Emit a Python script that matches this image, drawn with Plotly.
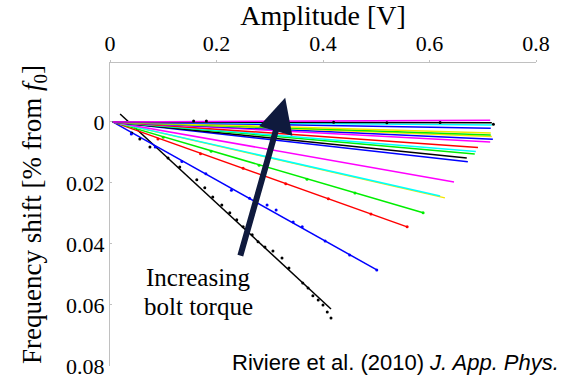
import plotly.graph_objects as go

# Fitted lines: colour, start (x, y) and end (x, y)
fit_colors = ["black", "blue", "red", "#00ee00", "#f5e600", "cyan", "magenta",
              "blue", "black", "#00ee00", "cyan", "red", "magenta", "blue",
              "#f5e600", "#00ee00", "#f5e600", "blue", "cyan", "black", "magenta"]
fit_x0 = [0.019, 0.005, 0.005, 0.005, 0.005, 0.005, 0.005, 0.005, 0.005, 0.005, 0.005,
          0.005, 0.005, 0.005, 0.005, 0.005, 0.005, 0.005, 0.005, 0.005, 0.005]
fit_y0 = [-0.0026, 0, 0, 0, 0, 0, 0, 0, 0, 0, 0, 0, 0, 0, 0, 0, 0, 0, 0, 0, 0]
fit_x1 = [0.415, 0.501, 0.558, 0.588, 0.629, 0.620, 0.646, 0.672, 0.670, 0.685, 0.687,
          0.691, 0.714, 0.719, 0.717, 0.715, 0.715, 0.715, 0.717, 0.717, 0.714]
fit_y1 = [0.0613, 0.0485, 0.0344, 0.0298, 0.0249, 0.0243, 0.0197, 0.0131, 0.0118, 0.0105,
          0.0097, 0.0084, 0.0066, 0.0057, 0.0048, 0.0043, 0.0036, 0.0021, 0.0010, 0.0003,
          -0.0005]

# Measured points (dots)
black_x = [0.041, 0.056, 0.075, 0.109, 0.131, 0.163, 0.178, 0.193, 0.210, 0.225, 0.238,
           0.250, 0.267, 0.278, 0.291, 0.306, 0.323, 0.336, 0.362, 0.372, 0.381, 0.391,
           0.400, 0.408, 0.415]
black_y = [0.0036, 0.0056, 0.0082, 0.0118, 0.0148, 0.0190, 0.0216, 0.0246, 0.0272, 0.0298,
           0.0321, 0.0344, 0.0370, 0.0393, 0.0410, 0.0423, 0.0446, 0.0479, 0.0528, 0.0544,
           0.0570, 0.0584, 0.0600, 0.0623, 0.0643]
blue_x = [0.040, 0.085, 0.135, 0.180, 0.228, 0.262, 0.295, 0.312, 0.344, 0.361, 0.404,
          0.450, 0.501]
blue_y = [0.0040, 0.0082, 0.0130, 0.0170, 0.0224, 0.0250, 0.0272, 0.0289, 0.0328, 0.0344,
          0.0390, 0.0436, 0.0485]
red_x = [0.090, 0.170, 0.250, 0.330, 0.410, 0.490, 0.558]
red_y = [0.0056, 0.0104, 0.0152, 0.0203, 0.0252, 0.0302, 0.0344]
green_x = [0.100, 0.190, 0.280, 0.370, 0.460, 0.588]
green_y = [0.0050, 0.0096, 0.0142, 0.0188, 0.0233, 0.0298]
top_x = [0.157, 0.181, 0.300, 0.420, 0.520, 0.620, 0.720]
top_y = [-0.0003, -0.0003, 0.0002, 0.0001, 0.0003, 0.0002, 0.0008]

x_ticks = [0, 0.2, 0.4, 0.6, 0.8]
x_ticktext = ["0", "0.2", "0.4", "0.6", "0.8"]
y_ticks = [0, 0.02, 0.04, 0.06, 0.08]
y_ticktext = ["0", "0.02", "0.04", "0.06", "0.08"]

fig = go.Figure()
for c, xa, ya, xb, yb in zip(fit_colors, fit_x0, fit_y0, fit_x1, fit_y1):
    fig.add_trace(go.Scatter(x=[xa, xb], y=[ya, yb], mode="lines",
                             line=dict(color=c, width=1.5), showlegend=False,
                             hoverinfo="skip"))
for xs, ys, c in [(black_x, black_y, "black"), (blue_x, blue_y, "blue"),
                  (red_x, red_y, "red"), (green_x, green_y, "#00ee00"),
                  (top_x, top_y, "black")]:
    fig.add_trace(go.Scatter(x=xs, y=ys, mode="markers",
                             marker=dict(color=c, size=3), showlegend=False))

serif = "Liberation Serif"
fig.update_layout(
    template="none",
    width=566, height=385,
    margin=dict(l=110, r=30, t=63, b=19),
    paper_bgcolor="white", plot_bgcolor="white",
    font=dict(family=serif, color="black", size=22),
)
fig.update_xaxes(side="top", range=[0, 0.8], tickmode="array", tickvals=x_ticks,
                 ticktext=x_ticktext,
                 showline=True, linecolor="#c0c0c0", linewidth=1,
                 ticks="outside", ticklen=2, tickcolor="#c0c0c0",
                 showgrid=False, zeroline=False,
                 title_text="Amplitude [V]", title_font_family=serif,
                 title_font_size=28, title_standoff=4,
                 tickfont_family=serif, tickfont_size=22)
fig.update_yaxes(range=[0.08, -0.0193], tickmode="array", tickvals=y_ticks,
                 ticktext=y_ticktext,
                 showline=True, linecolor="#c0c0c0", linewidth=1,
                 ticks="inside", ticklen=2, tickcolor="#c0c0c0",
                 showgrid=False, zeroline=False,
                 title_text="Frequency shift [% from <i>f</i><sub>0</sub>]",
                 title_font_family=serif, title_font_size=27, title_standoff=16,
                 tickfont_family=serif, tickfont_size=22)

fig.add_annotation(x=0.329, y=-0.0079, ax=0.244, ay=0.0443, xref="x", yref="y",
                   axref="x", ayref="y", text="", showarrow=True,
                   arrowhead=2, arrowsize=1.15, arrowwidth=6, arrowcolor="#0f1a3d")
fig.add_annotation(x=0.167, y=0.0511, xref="x", yref="y",
                   text="Increasing", showarrow=False,
                   font=dict(family=serif, size=25, color="black"))
fig.add_annotation(x=0.167, y=0.0605, xref="x", yref="y",
                   text="bolt torque", showarrow=False,
                   font=dict(family=serif, size=25, color="black"))
fig.add_annotation(x=0.537, y=0.0790, xref="x", yref="y",
                   text="Riviere et al. (2010) <i>J. App. Phys.</i>", showarrow=False,
                   font=dict(family="Liberation Sans", size=22, color="black"),
                   xanchor="center")

fig.write_html("out.html")
